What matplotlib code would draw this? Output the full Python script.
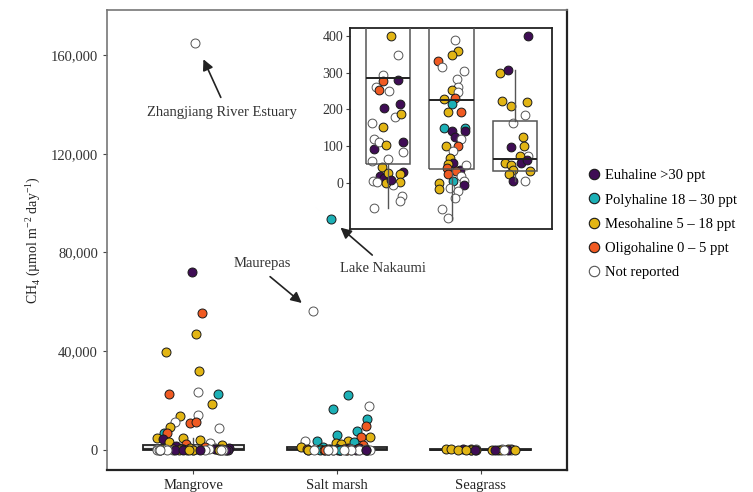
import matplotlib
matplotlib.use("Agg")
import matplotlib.pyplot as plt
from matplotlib.lines import Line2D
from matplotlib.ticker import StrMethodFormatter

plt.rcParams['font.family'] = ['Liberation Serif', 'DejaVu Serif']
plt.rcParams['mathtext.fontset'] = 'custom'
plt.rcParams['mathtext.rm'] = 'Liberation Serif'

# habitats
habitats = ['Mangrove', 'Salt marsh', 'Seagrass']

# salinity classes + colours
sal_classes = ['eu', 'poly', 'meso', 'oligo', 'nr']
sal_labels = ['Euhaline >30 ppt', 'Polyhaline 18 – 30 ppt', 'Mesohaline 5 – 18 ppt',
              'Oligohaline 0 – 5 ppt', 'Not reported']
sal_face = {'eu': '#3f0d55', 'poly': '#1cb0b6', 'meso': '#e2b514', 'oligo': '#f05a22', 'nr': 'white'}
sal_edge = {'eu': '#1a1a1a', 'poly': '#1a1a1a', 'meso': '#1a1a1a', 'oligo': '#1a1a1a', 'nr': '#555555'}

# CH4 flux (umol m-2 day-1), jitter offset, salinity class
mangrove_flux = [165000, 72000, 55500, 47000, 39600, 32100, 23600, 22600, 22600, 18400,
                 13900, 14000, 11200, 10800, 11400, 9000, 9400, 6800, 7000, 4700,
                 4300, 5000, 3800, 3000, 2600, 2200, 1800, 1500, 1200, 900, 700, 600, 500,
                 400, 347, 294, 278, 281, 261, 253, 249, 205, 214, 179, 187, 163, 151,
                 118, 93, 111, 102, 110, 83, 59, 65, 43, 29, 23, 18, 14, 6, 27, 2, 2,
                 -6, -36, -50, -68, 0, 9]
mangrove_jitter = [0.01, -0.01, 0.06, 0.02, -0.19, 0.04, 0.03, -0.17, 0.17, 0.13,
                   -0.09, 0.03, -0.13, -0.02, 0.02, 0.18, -0.16, -0.2, -0.18, -0.25,
                   -0.21, -0.07, 0.05, -0.17, 0.12, -0.05, 0.2, -0.12, 0.08, 0.25, -0.02, 0.15, -0.22,
                   0.04, 0.16, -0.08, -0.08, 0.15, -0.19, -0.14, 0.02, -0.07, 0.18, 0.11, 0.2, -0.25, -0.09,
                   -0.23, -0.23, -0.14, -0.04, 0.24, 0.23, -0.25, 0.0, -0.1, 0.23, 0.19, -0.13, -0.07, -0.24, 0.0, -0.18, 0.18,
                   0.08, 0.21, 0.19, -0.23, -0.03, 0.05]
mangrove_sal = ['nr', 'eu', 'oligo', 'meso', 'meso', 'meso', 'nr', 'oligo', 'poly', 'meso',
                'meso', 'nr', 'nr', 'oligo', 'oligo', 'nr', 'meso', 'poly', 'oligo', 'meso',
                'eu', 'meso', 'meso', 'meso', 'nr', 'oligo', 'meso', 'eu', 'oligo', 'eu', 'meso', 'nr', 'meso',
                'meso', 'nr', 'nr', 'oligo', 'eu', 'nr', 'oligo', 'nr', 'eu', 'eu', 'nr', 'meso', 'nr', 'meso',
                'nr', 'eu', 'nr', 'meso', 'eu', 'nr', 'nr', 'nr', 'meso', 'eu', 'meso', 'eu', 'eu', 'nr', 'meso', 'nr', 'meso',
                'nr', 'nr', 'nr', 'nr', 'meso', 'eu']

saltmarsh_flux = [93600, 56300, 22300, 16400, 17700, 12600, 9600, 7600, 6100, 5100,
                  5400, 3650, 3650, 3650, 3000, 2700, 2200, 1800, 1350, 1000, 800, 600, 500, 450,
                  389, 360, 347, 332, 314, 305, 282, 262, 252, 246, 228, 231, 214, 193, 193,
                  148, 140, 149, 140, 125, 118, 100, 100, 86, 68, 54, 52, 41, 36, 32, 48, 23,
                  5, 18, 5, -5, 0, -16, -14, -23, -41, -72, -95]
saltmarsh_jitter = [-0.04, -0.17, 0.08, -0.03, 0.22, 0.21, 0.2, 0.14, 0.0, 0.23,
                    0.17, -0.22, -0.14, 0.08, 0.12, -0.01, 0.03, 0.18, -0.25, -0.1, 0.08, 0.15, -0.05, 0.1,
                    0.05, 0.1, 0.0, -0.21, -0.15, 0.2, 0.09, 0.1, 0.0, 0.1, -0.12, 0.05, 0.0, -0.06, 0.14,
                    -0.12, 0.01, 0.21, 0.21, 0.06, 0.15, -0.09, 0.1, 0.02, -0.03, 0.02, -0.06, -0.08, 0.13, 0.07, 0.23, -0.06,
                    0.02, 0.15, 0.2, 0.2, -0.2, -0.2, -0.03, 0.1, 0.05, -0.16, -0.06]
saltmarsh_sal = ['poly', 'nr', 'poly', 'poly', 'nr', 'poly', 'oligo', 'poly', 'poly', 'meso',
                 'oligo', 'nr', 'poly', 'meso', 'poly', 'meso', 'meso', 'oligo', 'meso', 'poly', 'eu', 'eu', 'poly', 'meso',
                 'nr', 'meso', 'meso', 'oligo', 'nr', 'nr', 'nr', 'nr', 'meso', 'nr', 'meso', 'oligo', 'poly', 'meso', 'oligo',
                 'poly', 'eu', 'poly', 'eu', 'eu', 'nr', 'meso', 'oligo', 'nr', 'meso', 'eu', 'meso', 'oligo', 'eu', 'oligo', 'nr', 'oligo',
                 'poly', 'nr', 'nr', 'eu', 'meso', 'meso', 'nr', 'nr', 'nr', 'nr', 'nr']

seagrass_flux = [400, 299, 308, 222, 210, 220, 184, 163, 125, 97, 101, 74, 72, 54, 54,
                 48, 63, 36, 32, 25, 5, 5]
seagrass_jitter = [0.21, -0.24, -0.12, -0.21, -0.07, 0.19, 0.15, -0.03, 0.12, -0.07, 0.14, 0.21, 0.08, -0.16, 0.1,
                   -0.07, 0.19, -0.03, 0.24, -0.1, -0.04, 0.16]
seagrass_sal = ['eu', 'meso', 'eu', 'meso', 'meso', 'meso', 'nr', 'nr', 'meso', 'eu', 'meso', 'nr', 'meso', 'meso', 'eu',
                'meso', 'eu', 'meso', 'meso', 'meso', 'eu', 'nr']

# box summary: lower whisker, Q1, median, Q3, upper whisker
box_whislo = [-68, -100, 5]
box_q1 = [50, 38, 33]
box_med = [285, 226, 65]
box_q3 = [2000, 1100, 167]
box_whishi = [5000, 2700, 308]

fluxes = [mangrove_flux, saltmarsh_flux, seagrass_flux]
jitters = [mangrove_jitter, saltmarsh_jitter, seagrass_jitter]
sals = [mangrove_sal, saltmarsh_sal, seagrass_sal]

stats = []
for i in range(3):
    stats.append(dict(whislo=box_whislo[i], q1=box_q1[i], med=box_med[i],
                      q3=box_q3[i], whishi=box_whishi[i], fliers=[]))

fig = plt.figure(figsize=(7.53, 4.92), dpi=100)
ax = fig.add_axes([0.142, 0.045, 0.611, 0.935])
axin = fig.add_axes([0.465, 0.535, 0.268, 0.4085])


def draw_points(a, ms):
    for i in range(3):
        for v, j, s in zip(fluxes[i], jitters[i], sals[i]):
            a.scatter(i + j, v, s=ms, c=sal_face[s], edgecolors=sal_edge[s],
                      linewidths=0.7, zorder=4)


# main panel
ax.bxp(stats, positions=range(3), widths=0.7, showfliers=False, showcaps=False,
       patch_artist=True,
       boxprops=dict(facecolor='#ececec', edgecolor='#222222', linewidth=1.3),
       medianprops=dict(color='#222222', linewidth=1.3),
       whiskerprops=dict(color='#555555', linewidth=1.0), zorder=2)
draw_points(ax, 42)
ax.set_xlim(-0.6, 2.6)
ax.set_ylim(-8100, 178300)
ax.set_xticks(range(3))
ax.set_xticklabels(habitats, fontsize=10.5)
ax.set_yticks([0, 40000, 80000, 120000, 160000])
ax.yaxis.set_major_formatter(StrMethodFormatter('{x:,.0f}'))
ax.tick_params(axis='y', labelsize=10.5, length=3, color='#444444', labelcolor='#333333')
ax.tick_params(axis='x', length=3, color='#444444', labelcolor='#222222')
for side in ['top', 'left']:
    ax.spines[side].set_color('#777777')
    ax.spines[side].set_linewidth(1.2)
for side in ['bottom', 'right']:
    ax.spines[side].set_color('#222222')
    ax.spines[side].set_linewidth(1.6)
ax.set_ylabel('CH$_4$ (µmol m$^{-2}$ day$^{-1}$)', fontsize=10, color='#222222', labelpad=6)

# annotations
ax.text(0.2, 136600, 'Zhangjiang River Estuary', ha='center', va='center', fontsize=10.5, color='#333333')
ax.annotate('', xy=(0.063, 159300), xytext=(0.2, 141800),
            arrowprops=dict(arrowstyle='-|>', color='#222222', lw=1.2, mutation_scale=16))
ax.text(1.32, 73350, 'Lake Nakaumi', ha='center', va='center', fontsize=10.5, color='#333333')
ax.annotate('', xy=(1.01, 90800), xytext=(1.26, 78200),
            arrowprops=dict(arrowstyle='-|>', color='#222222', lw=1.2, mutation_scale=16))
ax.text(0.48, 75400, 'Maurepas', ha='center', va='center', fontsize=10.5, color='#333333')
ax.annotate('', xy=(0.77, 58800), xytext=(0.52, 70900),
            arrowprops=dict(arrowstyle='-|>', color='#222222', lw=1.2, mutation_scale=16))

# inset panel
axin.bxp(stats, positions=range(3), widths=0.7, showfliers=False, showcaps=False,
         patch_artist=True,
         boxprops=dict(facecolor='none', edgecolor='#555555', linewidth=1.1),
         medianprops=dict(color='#222222', linewidth=1.4),
         whiskerprops=dict(color='#555555', linewidth=1.0), zorder=5)
draw_points(axin, 40)
axin.set_xlim(-0.6, 2.58)
axin.set_ylim(-125, 422)
axin.set_xticks([])
axin.set_yticks([0, 100, 200, 300, 400])
axin.tick_params(axis='y', labelsize=10, length=3, color='#444444', labelcolor='#333333', pad=2)
for side in axin.spines:
    axin.spines[side].set_color('#222222')
    axin.spines[side].set_linewidth(1.3)

# legend
handles = []
for k in sal_classes:
    handles.append(Line2D([], [], marker='o', linestyle='none', markersize=7.5,
                          markerfacecolor=sal_face[k], markeredgecolor=sal_edge[k],
                          markeredgewidth=0.8))
fig.legend(handles, sal_labels, loc='upper left', bbox_to_anchor=(0.77, 0.668),
           frameon=False, fontsize=10.5, handletextpad=0.1, labelspacing=0.75,
           handlelength=1.2, borderaxespad=0)

plt.savefig('out.png', dpi=100)
